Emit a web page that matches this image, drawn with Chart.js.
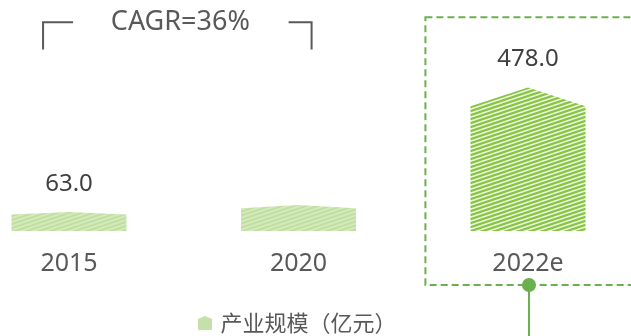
<!DOCTYPE html>
<html><head><meta charset="utf-8">
<script src="https://cdn.jsdelivr.net/npm/chart.js@4.4.0/dist/chart.umd.min.js"></script>
<style>html,body{margin:0;padding:0;background:#fff;}#wrap{width:631px;height:336px;position:relative;overflow:hidden}</style>
</head><body><div id="wrap"><canvas id="c" width="631" height="336"></canvas></div>
<script>
const categories = ['2015', '2020', '2022e'];
const industryScale = [63.0, 87, 478.0];
const valueLabels = ['63.0', '', '478.0'];
const seriesName = '产业规模（亿元）';
const cagrText = 'CAGR=36%';
const highlightIndex = 2;

const latin = '"Noto Sans", "Noto Sans CJK SC", sans-serif';
const cjk = '"Noto Sans CJK SC", "Noto Sans", sans-serif';
const canvas = document.getElementById('c');
const ctx0 = canvas.getContext('2d');

function makePattern(bg, fg, lw) {
  const c = document.createElement('canvas');
  c.width = 12; c.height = 4;
  const g = c.getContext('2d');
  g.fillStyle = bg; g.fillRect(0, 0, 12, 4);
  g.strokeStyle = fg; g.lineWidth = lw;
  for (let k = -1; k <= 2; k++) {
    g.beginPath(); g.moveTo(-1, 4 * k + 4 + 1 / 3); g.lineTo(13, 4 * k - 1 / 3); g.stroke();
  }
  return ctx0.createPattern(c, 'repeat');
}
const palePattern = makePattern('#d3eabd', '#c0de9f', 1.8);
const strongPattern = makePattern('#eef7e4', '#88c544', 2.2);

function legendIcon() {
  const c = document.createElement('canvas');
  c.width = 14; c.height = 14;
  const g = c.getContext('2d');
  g.fillStyle = '#c5e0a8';
  g.beginPath(); g.moveTo(0, 14); g.lineTo(0, 3); g.lineTo(7, 0); g.lineTo(14, 3); g.lineTo(14, 14); g.closePath(); g.fill();
  return c;
}
const icon = legendIcon();

const decor = {
  id: 'decor',
  afterDatasetsDraw(chart) {
    const ctx = chart.ctx;
    const meta = chart.getDatasetMeta(0);
    const xs = chart.scales.x;
    const area = chart.chartArea;
    meta.data.forEach((bar, i) => {
      const p = bar.getProps(['x', 'y', 'base', 'width'], true);
      const l = p.x - p.width / 2, r = p.x + p.width / 2;
      const sh = p.base - (p.base - p.y) * 0.87;
      ctx.save();
      ctx.beginPath();
      ctx.moveTo(l, p.base); ctx.lineTo(l, sh); ctx.lineTo(p.x, p.y); ctx.lineTo(r, sh); ctx.lineTo(r, p.base);
      ctx.closePath();
      ctx.fillStyle = i === highlightIndex ? strongPattern : palePattern;
      ctx.fill();
      ctx.restore();
      if (valueLabels[i]) {
        ctx.save();
        ctx.font = '24px ' + latin;
        ctx.fillStyle = '#404040';
        ctx.textAlign = 'center'; ctx.textBaseline = 'middle';
        ctx.fillText(valueLabels[i], p.x, p.y - 28);
        ctx.restore();
      }
    });
    const x0 = xs.getPixelForValue(0), x1 = xs.getPixelForValue(1), x2 = xs.getPixelForValue(2);
    const step = x1 - x0;
    // CAGR bracket
    ctx.save();
    ctx.strokeStyle = '#595959'; ctx.lineWidth = 2;
    const bl = x0 - 0.113 * step, br = x1 + 0.057 * step, by = area.top + 22.3, bb = area.top + 49.5;
    ctx.beginPath(); ctx.moveTo(bl, bb); ctx.lineTo(bl, by); ctx.lineTo(bl + 30, by); ctx.stroke();
    ctx.beginPath(); ctx.moveTo(br - 23, by); ctx.lineTo(br, by); ctx.lineTo(br, bb); ctx.stroke();
    ctx.font = '27px ' + latin;
    ctx.fillStyle = '#595959'; ctx.textAlign = 'center'; ctx.textBaseline = 'middle';
    ctx.fillText(cagrText, (bl + br) / 2 + 3, by);
    ctx.restore();
    // highlight box
    ctx.save();
    ctx.strokeStyle = '#6ab04c'; ctx.lineWidth = 2; ctx.setLineDash([7, 4]);
    const rl = x2 - 0.447 * step, rr = x2 + 0.6 * step, rt = area.top + 17.3, rb = area.bottom + 54;
    ctx.strokeRect(rl, rt, rr - rl, rb - rt);
    ctx.setLineDash([]);
    ctx.beginPath(); ctx.moveTo(x2 + 1, rb); ctx.lineTo(x2 + 1, chart.height + 5); ctx.stroke();
    ctx.fillStyle = '#6ab04c';
    ctx.beginPath(); ctx.arc(x2 + 1, rb, 7, 0, Math.PI * 2); ctx.fill();
    ctx.restore();
  }
};

new Chart(canvas, {
  type: 'bar',
  data: {
    labels: categories,
    datasets: [{
      label: seriesName,
      data: industryScale,
      backgroundColor: 'rgba(0,0,0,0)',
      borderWidth: 0,
      barThickness: 115
    }]
  },
  options: {
    responsive: false,
    animation: false,
    devicePixelRatio: 1,
    layout: { padding: { left: 69, right: 103, top: 0, bottom: -8 } },
    scales: {
      x: {
        offset: false,
        grid: { display: false, drawTicks: false },
        border: { display: false },
        ticks: { padding: 18, color: '#595959', font: { family: latin, size: 25 } }
      },
      y: { display: false, min: 0, max: 770 }
    },
    plugins: {
      tooltip: { enabled: false },
      legend: {
        position: 'bottom',
        fullSize: false,
        labels: {
          padding: 15,
          boxWidth: 9,
          boxHeight: 14,
          usePointStyle: true,
          color: '#595959',
          font: { family: cjk, size: 22 },
          generateLabels: (chart) => [{ text: seriesName, pointStyle: icon, fillStyle: '#c5e0a8', strokeStyle: 'rgba(0,0,0,0)', lineWidth: 0, datasetIndex: 0, fontColor: '#595959' }]
        }
      }
    }
  },
  plugins: [decor]
});
</script></body></html>
